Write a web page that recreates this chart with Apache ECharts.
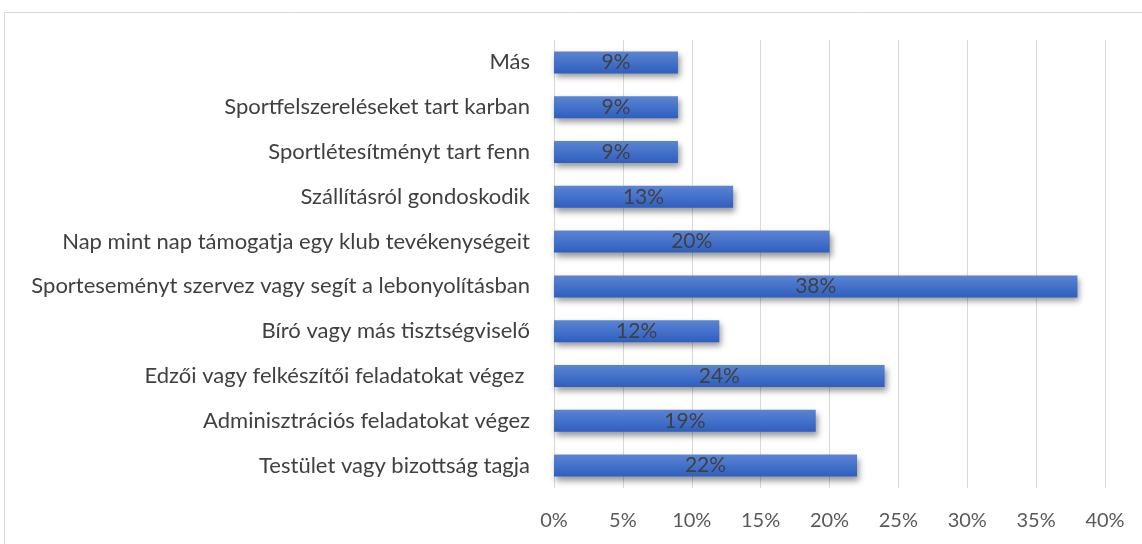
<!DOCTYPE html>
<html>
<head>
<meta charset="utf-8">
<script src="https://cdn.jsdelivr.net/npm/echarts@6/dist/echarts.min.js"></script>
<style>
html,body{margin:0;padding:0;background:#fff;}
#chart{width:1142px;height:544px;}
</style>
</head>
<body>
<div id="chart"></div>
<script>
// kategóriák alulról felfelé
var categories = [
    'Testület vagy bizottság tagja',
    'Adminisztrációs feladatokat végez',
    'Edzői vagy felkészítői feladatokat végez ',
    'Bíró vagy más tisztségviselő',
    'Sporteseményt szervez vagy segít a lebonyolításban',
    'Nap mint nap támogatja egy klub tevékenységeit',
    'Szállításról gondoskodik',
    'Sportlétesítményt tart fenn',
    'Sportfelszereléseket tart karban',
    'Más'
];
var values = [22, 19, 24, 12, 38, 20, 13, 9, 9, 9];
var axisMax = 40;
var axisStep = 5;

var myChart = echarts.init(document.getElementById('chart'));
var font = 'Lato, "Open Sans", sans-serif';

var option = {
    animation: false,
    graphic: [{
        type: 'rect',
        shape: {x: 4.5, y: 12.5, width: 1200, height: 600},
        style: {fill: 'none', stroke: '#d9d9d9', lineWidth: 1},
        silent: true
    }],
    grid: {
        left: 554,
        right: 37,
        top: 40,
        bottom: 56
    },
    xAxis: {
        type: 'value',
        min: 0,
        max: axisMax,
        interval: axisStep,
        axisLine: {show: false},
        axisTick: {show: false},
        splitLine: {lineStyle: {color: '#d9d9d9', width: 1}},
        axisLabel: {
            formatter: '{value}%',
            color: '#595959',
            fontSize: 20,
            fontFamily: font,
            margin: 23
        }
    },
    yAxis: {
        type: 'category',
        data: categories,
        axisLine: {show: false},
        axisTick: {show: false},
        splitLine: {show: false},
        axisLabel: {
            color: '#404040',
            fontSize: 22,
            fontFamily: font,
            margin: 24
        }
    },
    series: [{
        type: 'bar',
        data: values,
        barCategoryGap: '51%',
        itemStyle: {
            color: {
                type: 'linear', x: 0, y: 0, x2: 0, y2: 1,
                colorStops: [
                    {offset: 0, color: '#5b84d3'},
                    {offset: 1, color: '#2e5fbf'}
                ]
            },
            shadowColor: 'rgba(0,0,0,0.4)',
            shadowBlur: 6,
            shadowOffsetX: 2,
            shadowOffsetY: 4
        },
        label: {
            show: true,
            position: 'inside',
            formatter: '{c}%',
            color: '#404040',
            fontSize: 21,
            fontFamily: font
        }
    }]
};
myChart.setOption(option);
</script>
</body>
</html>
